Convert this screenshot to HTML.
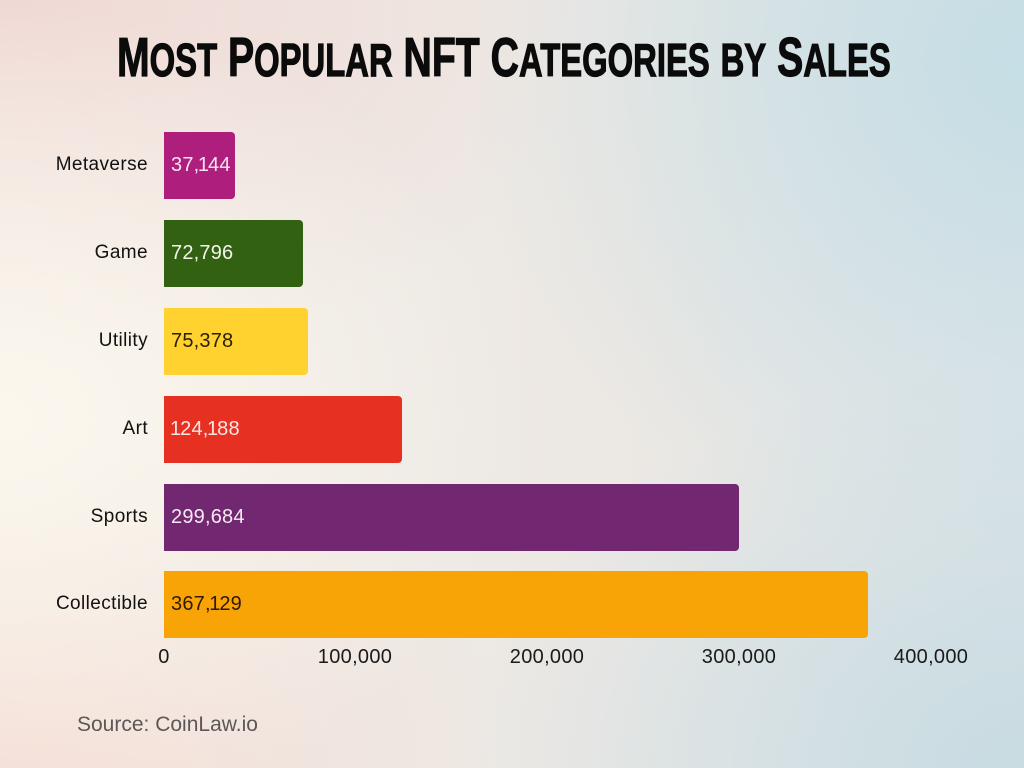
<!DOCTYPE html>
<html>
<head>
<meta charset="utf-8">
<style>
  html,body{margin:0;padding:0;}
  body{width:1024px;height:768px;overflow:hidden;position:relative;
    font-family:"Liberation Sans",sans-serif;
    background:
      radial-gradient(ellipse 520px 420px at 0px 420px, rgba(252,248,238,0.95), rgba(252,248,238,0) 100%),
      radial-gradient(ellipse 600px 380px at 0px 0px, rgba(240,214,210,0.9), rgba(240,214,210,0) 100%),
      radial-gradient(ellipse 520px 340px at 0px 768px, rgba(244,218,210,0.9), rgba(244,218,210,0) 100%),
      radial-gradient(ellipse 560px 520px at 1024px 60px, rgba(196,221,229,0.95), rgba(196,221,229,0) 100%),
      radial-gradient(ellipse 560px 400px at 1024px 768px, rgba(198,219,226,0.95), rgba(198,219,226,0) 100%),
      linear-gradient(90deg,#f1ece6 0%,#ece8e4 60%,#dfe5e6 100%);
  }
  .title{position:absolute;left:117px;top:30px;height:55px;line-height:55px;
    font-weight:bold;font-size:55px;color:#0b0b0b;white-space:nowrap;
    transform-origin:0 0;transform:scaleX(0.713);-webkit-text-stroke:1.2px #0b0b0b;letter-spacing:0px;}
  .title .s{font-size:46px;}
  .lab{position:absolute;right:876px;width:140px;text-align:right;font-size:19px;color:#111;
    letter-spacing:0.4px;line-height:24px;}
  .bar{position:absolute;left:164px;height:67px;border-radius:0 4px 4px 0;}
  .val{position:absolute;left:171px;font-size:20px;line-height:24px;letter-spacing:0.2px;white-space:nowrap;}
  .n{letter-spacing:-1px;margin-left:-1.5px;}
  .tick{position:absolute;top:645px;width:120px;text-align:center;font-size:20px;color:#1a1a1a;line-height:24px;letter-spacing:0.3px;}
  .src{position:absolute;left:77px;top:712px;font-size:21px;color:#5b5856;line-height:26px;}
</style>
</head>
<body>
<div class="title">M<span class="s">OST</span> P<span class="s">OPULAR</span> NFT C<span class="s">ATEGORIES</span> <span class="s">BY</span> S<span class="s">ALES</span></div>

<div class="bar" style="top:132px;width:71px;background:#ad1e7d;"></div>
<div class="bar" style="top:220px;width:139px;background:#336112;"></div>
<div class="bar" style="top:308px;width:144px;background:#ffd22f;"></div>
<div class="bar" style="top:396px;width:238px;background:#e63022;"></div>
<div class="bar" style="top:484px;width:575px;background:#722870;"></div>
<div class="bar" style="top:571px;width:704px;background:#f9a406;"></div>

<div class="lab" style="top:153px;">Metaverse</div>
<div class="lab" style="top:241px;">Game</div>
<div class="lab" style="top:329px;">Utility</div>
<div class="lab" style="top:417px;">Art</div>
<div class="lab" style="top:505px;">Sports</div>
<div class="lab" style="top:592px;">Collectible</div>

<div class="val" style="top:153px;color:#f8e4f2;">37,<span class="n">1</span>44</div>
<div class="val" style="top:241px;color:#f2f5ee;">72,796</div>
<div class="val" style="top:329px;color:#2a1f05;">75,378</div>
<div class="val" style="top:417px;color:#fbe6e2;"><span class="n" style="margin-left:-1px">1</span>24,<span class="n">1</span>88</div>
<div class="val" style="top:505px;color:#f6eaf4;">299,684</div>
<div class="val" style="top:592px;color:#2f1a04;">367,<span class="n">1</span>29</div>

<div class="tick" style="left:104px;">0</div>
<div class="tick" style="left:295px;">100,000</div>
<div class="tick" style="left:487px;">200,000</div>
<div class="tick" style="left:679px;">300,000</div>
<div class="tick" style="left:871px;">400,000</div>

<div class="src">Source: CoinLaw.io</div>
</body>
</html>
